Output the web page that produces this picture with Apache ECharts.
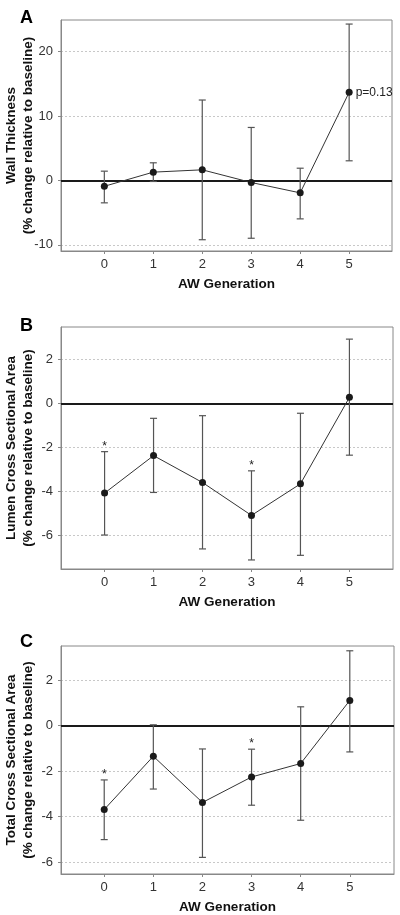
<!DOCTYPE html>
<html>
<head>
<meta charset="utf-8">
<script src="https://cdn.jsdelivr.net/npm/echarts@6/dist/echarts.min.js"></script>
<style>html,body{margin:0;padding:0;background:#fff}#c{width:400px;height:915px}</style>
</head>
<body>
<div id="c"></div>
<script>
// ---- data ----
var generations = [0, 1, 2, 3, 4, 5];
var xTicks = [0, 1, 2, 3, 4, 5];

var wallMean  = [-0.9, 1.3, 1.66, -0.31, -1.92, 13.7];
var wallUpper = [1.45, 2.75, 12.5, 8.24, 1.91, 24.3];
var wallLower = [-3.47, -0.15, -9.2, -8.97, -5.96, 3.06];
var wallTicks = [-10, 0, 10, 20];

var lumenMean  = [-4.07, -2.37, -3.59, -5.08, -3.65, 0.27];
var lumenUpper = [-2.19, -0.68, -0.56, -3.06, -0.45, 2.91];
var lumenLower = [-5.97, -4.04, -6.6, -7.1, -6.89, -2.35];
var lumenTicks = [-6, -4, -2, 0, 2];
var lumenStars = [0, 3];

var totalMean  = [-3.69, -1.35, -3.38, -2.26, -1.67, 1.1];
var totalUpper = [-2.39, 0.03, -1.03, -1.04, 0.82, 3.28];
var totalLower = [-5.01, -2.79, -5.79, -3.5, -4.16, -1.16];
var totalTicks = [-6, -4, -2, 0, 2];
var totalStars = [0, 3];

var panelLetters = ['A', 'B', 'C'];
var yNames = [
  'Wall Thickness\n(% change relative to baseline)',
  'Lumen Cross Sectional Area\n(% change relative to baseline)',
  'Total Cross Sectional Area\n(% change relative to baseline)'
];
var xName = 'AW Generation';
var pLabel = 'p=0.13';
var pLabelIndex = 5;

// ---- layout ----
var FONT = '"Liberation Sans", Arial, sans-serif';
var grids = [
  {left: 61, top: 20, width: 331, height: 231},
  {left: 61, top: 327, width: 332, height: 242},
  {left: 61, top: 646, width: 333, height: 228}
];
var yRanges = [[-10.95, 24.93], [-7.51, 3.46], [-6.52, 3.49]];
var xRanges = [[-0.885, 5.875], [-0.89, 5.89], [-0.88, 5.9]];
var letterTops = [4, 312, 628];

var panels = [
  {mean: wallMean, up: wallUpper, lo: wallLower, ticks: wallTicks, stars: []},
  {mean: lumenMean, up: lumenUpper, lo: lumenLower, ticks: lumenTicks, stars: lumenStars},
  {mean: totalMean, up: totalUpper, lo: totalLower, ticks: totalTicks, stars: totalStars}
];

var xAxes = [], yAxes = [], series = [], titles = [];
panels.forEach(function (p, i) {
  titles.push({text: panelLetters[i], left: 15, top: letterTops[i],
    textStyle: {fontSize: 18, fontWeight: 'bold', color: '#000', fontFamily: FONT}});
  xAxes.push({
    gridIndex: i, type: 'value', min: xRanges[i][0], max: xRanges[i][1],
    name: xName, nameLocation: 'middle', nameGap: 26, nameMoveOverlap: false,
    nameTextStyle: {fontSize: 13.5, fontWeight: 'bold', color: '#111', fontFamily: FONT},
    axisLine: {show: true, onZero: false, lineStyle: {color: '#888', width: 1}},
    axisTick: {show: true, length: 3, customValues: xTicks, lineStyle: {color: '#888'}},
    axisLabel: {customValues: xTicks, fontSize: 13, color: '#333', margin: 7, fontFamily: FONT},
    splitLine: {show: false}
  });
  yAxes.push({
    gridIndex: i, type: 'value', min: yRanges[i][0], max: yRanges[i][1],
    name: yNames[i], nameLocation: 'middle', nameGap: 24, nameMoveOverlap: false,
    nameTextStyle: {fontSize: 13.5, fontWeight: 'bold', color: '#111', lineHeight: 17, fontFamily: FONT},
    axisLine: {show: true, onZero: false, lineStyle: {color: '#888', width: 1}},
    axisTick: {show: true, length: 3, customValues: p.ticks, lineStyle: {color: '#888'}},
    axisLabel: {customValues: p.ticks, fontSize: 13, color: '#333', margin: 8, fontFamily: FONT},
    splitLine: {show: true, lineStyle: {color: '#c8c8c8', type: [2, 2], width: 1}}
  });
  var errData = generations.map(function (g, k) { return [g, p.up[k], p.lo[k]]; });
  series.push({
    type: 'custom', xAxisIndex: i, yAxisIndex: i, data: errData, silent: true, z: 3,
    renderItem: function (params, api) {
      var x = api.value(0);
      var a = api.coord([x, api.value(1)]);
      var b = api.coord([x, api.value(2)]);
      var w = 3.5;
      var st = {stroke: '#555', lineWidth: 1.2};
      return {type: 'group', children: [
        {type: 'line', shape: {x1: a[0], y1: a[1], x2: b[0], y2: b[1]}, style: st},
        {type: 'line', shape: {x1: a[0] - w, y1: a[1], x2: a[0] + w, y2: a[1]}, style: st},
        {type: 'line', shape: {x1: b[0] - w, y1: b[1], x2: b[0] + w, y2: b[1]}, style: st}
      ]};
    }
  });
  series.push({
    type: 'line', xAxisIndex: i, yAxisIndex: i, z: 4,
    data: generations.map(function (g, k) { return [g, p.mean[k]]; }),
    lineStyle: {color: '#333', width: 1},
    symbol: 'circle', symbolSize: 7,
    itemStyle: {color: '#1a1a1a'},
    label: {
      show: i === 0, position: 'right', distance: 3, fontSize: 12, color: '#222', fontFamily: FONT,
      formatter: function (prm) { return prm.dataIndex === pLabelIndex ? pLabel : ''; }
    },
    markLine: {
      silent: true, symbol: 'none', label: {show: false},
      lineStyle: {color: '#1a1a1a', width: 2, type: 'solid'},
      data: [{yAxis: 0}], z: 2
    },
    animation: false
  });
  if (p.stars.length) {
    series.push({
      type: 'custom', xAxisIndex: i, yAxisIndex: i, silent: true, z: 5,
      data: p.stars.map(function (k) { return [generations[k], p.up[k]]; }),
      renderItem: function (params, api) {
        var c = api.coord([api.value(0), api.value(1)]);
        return {type: 'text', x: c[0], y: c[1] + 1,
          style: {text: '*', fill: '#222', align: 'center', verticalAlign: 'bottom', font: '12px ' + FONT}};
      }
    });
  }
});

var chart = echarts.init(document.getElementById('c'), null, {renderer: 'canvas'});
chart.setOption({
  animation: false,
  textStyle: {fontFamily: FONT},
  title: titles,
  grid: grids.map(function (g) {
    return {left: g.left, top: g.top, width: g.width, height: g.height, show: true,
      containLabel: false, outerBoundsMode: 'none',
      borderColor: '#888', borderWidth: 1, backgroundColor: 'transparent'};
  }),
  xAxis: xAxes,
  yAxis: yAxes,
  series: series
});
</script>
</body>
</html>
